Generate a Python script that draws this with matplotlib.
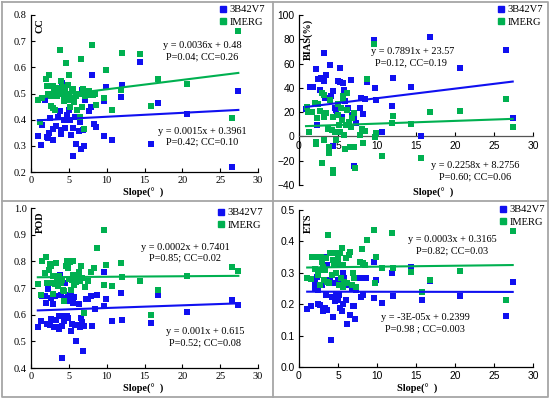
import numpy as np
import matplotlib.pyplot as plt
from matplotlib.lines import Line2D

# ---- datos ----
# CC
cc_trmm_x = [0.9, 1.3, 1.5, 2.1, 1.9, 2.4, 2.5, 2.2, 2.95, 2.85, 3.3, 3.6, 3.8, 3.95, 3.95, 4.1, 4.3, 4.5,
             4.7, 5.0, 5.15, 5.2, 5.35, 5.5, 5.6, 5.8, 6.0, 6.4, 6.5, 6.6, 6.7, 6.9, 7.0, 7.1, 7.65, 7.9,
             8.0, 8.35, 8.6, 9.6, 9.6, 9.9, 10.7, 11.9, 12.0, 14.4, 15.8, 16.8, 20.6, 26.5, 27.4]
cc_trmm = [0.336, 0.303, 0.379, 0.332, 0.476, 0.349, 0.406, 0.33, 0.324, 0.364, 0.377, 0.412, 0.432, 0.362,
           0.345, 0.539, 0.40, 0.368, 0.419, 0.438, 0.476, 0.40, 0.343, 0.26, 0.368, 0.412, 0.307, 0.355,
           0.39, 0.288, 0.514, 0.36, 0.30, 0.476, 0.434, 0.448, 0.572, 0.385, 0.372, 0.336, 0.473, 0.523,
           0.321, 0.485, 0.533, 0.62, 0.307, 0.462, 0.422, 0.218, 0.51]
cc_imerg_x = [0.9, 1.2, 1.4, 2.0, 2.1, 2.2, 2.4, 2.6, 2.7, 2.85, 2.95, 3.1, 3.2, 3.4, 3.5, 3.65, 3.85, 3.9,
              4.05, 4.2, 4.3, 4.4, 4.5, 4.6, 4.7, 4.9, 5.0, 5.05, 5.15, 5.3, 5.4, 5.5, 5.6, 5.7, 5.9, 6.1,
              6.2, 6.5, 6.55, 6.7, 6.8, 6.9, 7.0, 7.2, 7.4, 7.7, 8.0, 8.15, 8.45, 8.65, 9.6, 9.9, 10.7,
              11.9, 12.0, 14.4, 15.8, 16.8, 20.6, 26.5, 27.4]
cc_imerg = [0.476, 0.39, 0.482, 0.555, 0.529, 0.50, 0.571, 0.453, 0.489, 0.444, 0.529, 0.514, 0.438, 0.489,
            0.52, 0.508, 0.667, 0.546, 0.499, 0.524, 0.47, 0.489, 0.514, 0.616, 0.476, 0.533, 0.50, 0.57,
            0.45, 0.482, 0.514, 0.476, 0.517, 0.466, 0.489, 0.438, 0.50, 0.412, 0.631, 0.45, 0.50, 0.517,
            0.364, 0.489, 0.495, 0.508, 0.686, 0.495, 0.50, 0.456, 0.482, 0.588, 0.438, 0.514, 0.656, 0.65,
            0.453, 0.556, 0.537, 0.405, 0.739]

# BIAS (%)
bias_trmm_x = [0.9, 1.4, 1.75, 2.2, 2.5, 2.65, 2.8, 3.15, 3.2, 3.3, 3.5, 3.95, 4.1, 4.4, 4.6, 4.7, 5.0, 4.9,
               5.2, 5.25, 5.45, 5.6, 5.75, 5.9, 6.1, 6.3, 6.7, 6.8, 7.1, 7.3, 7.1, 7.8, 7.95, 8.15, 8.5,
               8.75, 9.6, 9.7, 9.9, 10.7, 11.9, 12.0, 14.4, 15.7, 16.8, 20.6, 26.5, 27.4, 2.3, 3.9, 4.3]
bias_trmm = [22.5, 41, 40.4, 55.2, 47.2, 38, 48.5, 69, 45.6, 31.8, 50.4, 59.2, 33.5, 37.3, 23, 21.7, 46, 17.6,
             56.6, 45, 15.6, 44, 38.5, 29.4, 21.7, 23.6, 46.4, 17.6, 15.4, 11.3, -24.2, 23, 32, 18.2, 30.5,
             45.2, 79, 39.5, 29.6, 3.3, 25, 47.8, 40.4, 0, 82, 56, 71, 15, 9, -12, -8]
bias_imerg_x = [1.0, 1.2, 1.3, 1.7, 2.05, 2.3, 2.2, 2.2, 2.4, 2.7, 2.9, 3.0, 3.2, 3.25, 3.25, 3.45, 3.75,
                3.85, 3.9, 4.0, 4.2, 4.3, 4.4, 4.4, 4.6, 4.8, 4.95, 5.05, 5.1, 5.25, 5.4, 5.45, 5.6, 5.7,
                5.8, 5.9, 6.0, 6.1, 6.2, 6.4, 6.5, 6.7, 6.8, 7.0, 7.1, 7.2, 7.8, 8.1, 8.2, 8.45, 8.75,
                9.6, 9.7, 9.9, 10.7, 11.9, 12.0, 14.4, 15.7, 16.8, 20.6, 26.5, 27.4]
bias_imerg = [24, 20, 3.5, 20.3, 27.7, 14.8, -4.4, -6.3, 26.4, 20.9, 36, -21.7, 15.6, 34, -3, 19.5, 6.3,
              -9, -14, 30, 5.2, 16.2, -28, -30, 4, -3, 27, 17.5, 9.3, 4, 23, 13.5, 33, 30, 1, -10, 9.3,
              21.7, 36, 12, -8.5, 8, 15, 19, -8.5, -26, 1, 5.8, -5.8, 4.7, 47, 76, -0.8, 2.5, -16, 11.3,
              17, 10, -18, 20, 21, 31, 8]

# POD
pod_trmm_x = [0.9, 1.3, 1.4, 1.8, 2.0, 2.1, 2.2, 2.5, 2.6, 2.7, 2.85, 3.0, 3.15, 3.25, 3.5, 3.65, 3.75, 3.8,
              3.95, 4.05, 4.1, 4.25, 4.4, 4.5, 4.6, 4.7, 4.85, 4.9, 5.0, 5.15, 5.3, 5.35, 5.45, 5.6, 5.7,
              5.8, 6.0, 6.1, 6.3, 6.5, 6.6, 6.7, 6.9, 7.0, 7.25, 7.5, 7.9, 8.0, 8.45, 8.7, 9.6, 9.7, 9.9,
              10.7, 11.9, 12.0, 15.8, 16.8, 20.6, 26.5, 27.4]
pod_trmm = [0.553, 0.578, 0.669, 0.669, 0.644, 0.566, 0.696, 0.563, 0.663, 0.585, 0.64, 0.553, 0.669, 0.581,
            0.554, 0.546, 0.596, 0.75, 0.673, 0.4375, 0.559, 0.594, 0.578, 0.719, 0.663, 0.596, 0.588,
            0.674, 0.65, 0.656, 0.683, 0.539, 0.566, 0.644, 0.666, 0.56, 0.503, 0.563, 0.64, 0.553, 0.588,
            0.573, 0.463, 0.556, 0.659, 0.659, 0.669, 0.559, 0.621, 0.672, 0.76, 0.631, 0.659, 0.575, 0.68,
            0.579, 0.57, 0.675, 0.61, 0.655, 0.635]
pod_imerg_x = [0.9, 1.3, 1.5, 1.8, 2.0, 2.1, 2.4, 2.5, 2.6, 2.7, 2.85, 2.95, 3.15, 3.3, 3.4, 3.6, 3.75,
               3.9, 4.05, 4.2, 4.3, 4.4, 4.6, 4.7, 4.85, 4.9, 5.0, 5.15, 5.3, 5.4, 5.5, 5.6, 5.7, 5.85,
               6.0, 6.25, 6.4, 6.5, 6.65, 6.8, 7.05, 7.2, 7.55, 7.9, 8.35, 8.7, 9.6, 9.7, 9.9, 10.7, 11.9,
               12.0, 14.4, 15.8, 16.8, 20.6, 26.5, 27.4]
pod_imerg = [0.715, 0.675, 0.80, 0.756, 0.815, 0.719, 0.769, 0.79, 0.719, 0.781, 0.678, 0.744, 0.715,
             0.794, 0.731, 0.706, 0.744, 0.719, 0.731, 0.694, 0.65, 0.688, 0.781, 0.803, 0.794, 0.775,
             0.735, 0.797, 0.694, 0.731, 0.803, 0.75, 0.713, 0.731, 0.722, 0.738, 0.759, 0.725, 0.781,
             0.738, 0.606, 0.703, 0.725, 0.759, 0.775, 0.85, 0.919, 0.713, 0.788, 0.706, 0.794, 0.741,
             0.725, 0.598, 0.691, 0.746, 0.778, 0.763]

# ETS
ets_trmm_x = [1.05, 1.5, 2.05, 2.1, 2.25, 2.4, 2.5, 2.7, 2.9, 3.1, 3.2, 3.3, 3.45, 3.55, 3.65, 3.85, 4.0,
              4.1, 4.2, 4.4, 4.5, 4.6, 4.75, 4.85, 4.95, 5.05, 5.15, 5.3, 5.45, 5.6, 5.7, 5.8, 6.0, 6.2,
              6.4, 6.6, 6.75, 6.9, 7.0, 7.2, 7.3, 7.8, 8.0, 8.15, 8.65, 9.6, 9.65, 9.9, 10.7, 11.9, 12.0,
              14.4, 15.75, 16.8, 20.6, 26.5, 27.4]
ets_trmm = [0.184, 0.194, 0.25, 0.268, 0.287, 0.202, 0.245, 0.197, 0.26, 0.178, 0.351, 0.187, 0.229,
            0.324, 0.183, 0.271, 0.277, 0.085, 0.223, 0.16, 0.266, 0.21, 0.232, 0.324, 0.277, 0.213,
            0.229, 0.189, 0.178, 0.202, 0.298, 0.282, 0.213, 0.138, 0.26, 0.165, 0.25, 0.194, 0.194,
            0.154, 0.245, 0.285, 0.223, 0.229, 0.282, 0.333, 0.22, 0.277, 0.205, 0.30, 0.227, 0.319,
            0.213, 0.273, 0.226, 0.162, 0.27]
ets_imerg_x = [1.05, 1.5, 1.7, 2.05, 2.25, 2.4, 2.55, 2.7, 2.8, 2.9, 3.1, 3.25, 3.3, 3.45, 3.6, 3.75, 3.85,
               4.0, 4.2, 4.4, 4.5, 4.75, 4.8, 4.95, 5.05, 5.15, 5.3, 5.4, 5.45, 5.6, 5.7, 5.8, 6.0, 6.2,
               6.4, 6.6, 6.75, 6.95, 7.1, 7.25, 7.8, 8.1, 8.25, 8.5, 8.7, 9.6, 9.7, 9.9, 10.7, 11.9, 12.0,
               14.4, 15.75, 16.8, 20.6, 26.5, 27.4]
ets_imerg = [0.282, 0.279, 0.351, 0.312, 0.351, 0.293, 0.309, 0.26, 0.349, 0.335, 0.319, 0.277, 0.309,
             0.346, 0.271, 0.42, 0.266, 0.362, 0.293, 0.34, 0.324, 0.362, 0.298, 0.351, 0.33, 0.26, 0.362,
             0.282, 0.378, 0.324, 0.255, 0.271, 0.346, 0.266, 0.356, 0.367, 0.26, 0.298, 0.282, 0.255,
             0.335, 0.375, 0.33, 0.324, 0.406, 0.436, 0.266, 0.351, 0.314, 0.426, 0.314, 0.301, 0.239,
             0.277, 0.307, 0.214, 0.434]

# ajustes (pendiente, intercepto) y textos
fits = {
    'CC': [(0.0015, 0.3961), (0.0036, 0.48)],
    'BIAS': [(0.7891, 23.57), (0.2258, 8.2756)],
    'POD': [(0.001, 0.615), (0.0002, 0.7401)],
    'ETS': [(-3e-05, 0.2399), (0.0003, 0.3165)],
}

AZUL = '#1010f0'
VERDE = '#00b050'
SERIF = 'Liberation Serif'
SANS = 'Liberation Sans'

W, H = 550, 399
fig = plt.figure(figsize=(W / 100, H / 100), dpi=100)


def px(x, y):
    return x / W, 1 - y / H


def caja(l, t, r, b):
    x0, y0 = px(l, b)
    x1, y1 = px(r, t)
    return [x0, y0, x1 - x0, y1 - y0]


def texto(x, y, s, **kw):
    fx, fy = px(x, y)
    fig.text(fx, fy, s, family=SERIF, fontsize=7.4, ha='center', va='center', **kw)


def panel(rect, xb, yb, xi, yi, fit, ylim, yticks, ylabel, tickfont, ylab_pos, leg_pos, zero_axis=False):
    ax = fig.add_axes(caja(*rect))
    ax.scatter(xb, yb, marker='s', s=17, color=AZUL, linewidths=0, zorder=3)
    ax.scatter(xi, yi, marker='s', s=17, color=VERDE, linewidths=0, zorder=3)
    xs = np.array([min(xb), max(xb)])
    ax.plot(xs, fit[0][0] * xs + fit[0][1], color=AZUL, lw=1.5, zorder=4)
    ax.plot(xs, fit[1][0] * xs + fit[1][1], color=VERDE, lw=1.5, zorder=4)
    ax.set_xlim(0, 30)
    ax.set_ylim(*ylim)
    ax.set_xticks(range(0, 31, 5))
    ax.set_yticks(yticks)
    ax.spines['top'].set_visible(False)
    ax.spines['right'].set_visible(False)
    for s in ['left', 'bottom']:
        ax.spines[s].set_linewidth(0.9)
    if zero_axis:
        ax.spines['bottom'].set_position(('data', 0))
        ax.spines['bottom'].set_color('#555555')
    ax.tick_params(direction='in', length=3, width=0.8, pad=3, labelsize=7.4)
    for lab in ax.get_xticklabels() + ax.get_yticklabels():
        lab.set_family(tickfont)
    ax.text(ylab_pos[0], ylab_pos[1], ylabel, transform=ax.transAxes, rotation=90,
            family=SERIF, fontweight='bold', fontsize=7.4, ha='center', va='top')
    handles = [Line2D([], [], marker='s', ls='', color=AZUL, markersize=4.5),
               Line2D([], [], marker='s', ls='', color=VERDE, markersize=4.5)]
    ax.legend(handles, ['3B42V7', 'IMERG'], loc='upper left', bbox_to_anchor=leg_pos,
              bbox_transform=fig.transFigure, frameon=False, prop={'family': SERIF, 'size': 7.6},
              handletextpad=0.1, handlelength=1.0, labelspacing=0.3, borderpad=0, borderaxespad=0)
    return ax


panel((31, 15, 258, 172), cc_trmm_x, cc_trmm, cc_imerg_x, cc_imerg, fits['CC'],
      (0.2, 0.8), np.arange(0.2, 0.81, 0.1), 'CC', SERIF, (0.04, 0.98), px(218, 5))
panel((299, 15, 533, 185), bias_trmm_x, bias_trmm, bias_imerg_x, bias_imerg, fits['BIAS'],
      (-40, 100), range(-40, 101, 20), 'BIAS(%)', SANS, (0.04, 0.98), px(496, 5), zero_axis=True)
panel((31, 208, 258, 368), pod_trmm_x, pod_trmm, pod_imerg_x, pod_imerg, fits['POD'],
      (0.4, 1.0), np.arange(0.4, 1.01, 0.1), 'POD', SERIF, (0.04, 0.98), px(216, 208))
panel((299, 210, 533, 367), ets_trmm_x, ets_trmm, ets_imerg_x, ets_imerg, fits['ETS'],
      (0, 0.5), np.arange(0, 0.51, 0.1), 'ETS', SANS, (0.04, 0.98), px(498, 205))

# ecuaciones
texto(202, 46, 'y = 0.0036x + 0.48')
texto(202, 57, 'P=0.04; CC=0.26')
texto(202, 131, 'y = 0.0015x + 0.3961')
texto(202, 142, 'P=0.42; CC=0.10')
texto(413, 52, 'y = 0.7891x + 23.57')
texto(411, 63, 'P=0.12, CC=0.19')
texto(475, 166, 'y = 0.2258x + 8.2756')
texto(475, 177, 'P=0.60; CC=0.06')
texto(185, 247, 'y = 0.0002x + 0.7401')
texto(185, 258, 'P=0.85; CC=0.02')
texto(205, 332, 'y = 0.001x + 0.615')
texto(205, 343, 'P=0.52; CC=0.08')
texto(452, 240, 'y = 0.0003x + 0.3165')
texto(452, 251, 'P=0.82; CC=0.03')
texto(425, 318, 'y = -3E-05x + 0.2399')
texto(425, 329, 'P=0.98 ; CC=0.003')

# etiquetas del eje x
for (x, y) in [(143, 193), (433, 193), (143, 389), (417, 389)]:
    texto(x, y, 'Slope(°  )', fontweight='bold')

# marcos grises de los paneles
gris = '#a6a6a6'
for xs_, ys_ in [([2, 548, 548, 2, 2], [2, 2, 397, 397, 2]),
                 ([273, 273], [2, 397]), ([2, 548], [201, 201])]:
    fx = [x / W for x in xs_]
    fy = [1 - y / H for y in ys_]
    fig.add_artist(Line2D(fx, fy, color=gris, lw=1.3, transform=fig.transFigure))

fig.savefig('out.png', dpi=100)
